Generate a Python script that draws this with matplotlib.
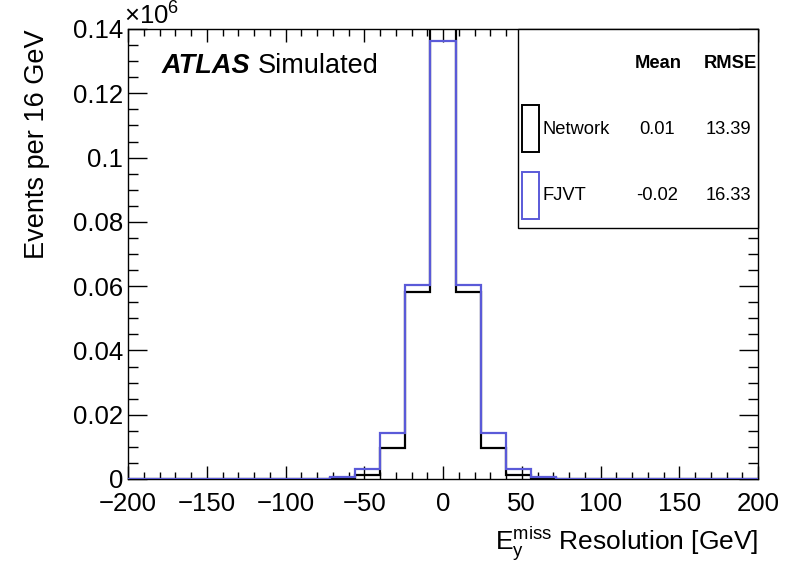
import numpy as np
import matplotlib
matplotlib.use("Agg")
import matplotlib.pyplot as plt
from matplotlib.patches import Rectangle
from matplotlib.ticker import MultipleLocator, FuncFormatter

plt.rcParams['font.family'] = ['Liberation Sans', 'DejaVu Sans']
plt.rcParams['mathtext.fontset'] = 'custom'
plt.rcParams['mathtext.rm'] = 'Liberation Sans'
plt.rcParams['mathtext.it'] = 'Liberation Sans:italic'

# ---- data ----
bin_edges = np.arange(-200, 201, 16)  # 25 bins of 16 GeV
network_counts = [0, 0, 0, 0, 0, 0, 0, 40, 250, 1340, 9640, 58280, 145000,
                  58280, 9640, 1340, 250, 40, 0, 0, 0, 0, 0, 0, 0]
fjvt_counts = [0, 0, 0, 0, 0, 0, 20, 120, 720, 3200, 14400, 60450, 136300,
               60450, 14400, 3200, 720, 120, 20, 0, 0, 0, 0, 0, 0]
series_names = ["Network", "FJVT"]
series_means = ["0.01", "-0.02"]
series_rmse = ["13.39", "16.33"]
series_colors = ["black", "#5a5ad8"]
scale = 1e6

W, H = 798, 571
fig = plt.figure(figsize=(W / 100, H / 100), dpi=100)
ax = fig.add_axes([128 / W, 1 - 479 / H, (758 - 128) / W, (479 - 29) / H])


def fx(px):
    return px / W


def fy(py):
    return 1 - py / H


for counts, col, z in [(network_counts, series_colors[0], 3), (fjvt_counts, series_colors[1], 4)]:
    ax.stairs(np.array(counts) / scale, bin_edges, color=col, lw=1.6, zorder=z)

ax.set_xlim(-200, 200)
ax.set_ylim(0, 0.14)
ax.xaxis.set_major_locator(MultipleLocator(50))
ax.xaxis.set_minor_locator(MultipleLocator(10))
ax.yaxis.set_major_locator(MultipleLocator(0.02))
ax.yaxis.set_minor_locator(MultipleLocator(0.005))
ax.yaxis.set_major_formatter(FuncFormatter(lambda v, p: "%g" % round(v, 4)))
ax.xaxis.set_major_formatter(FuncFormatter(lambda v, p: ("\u2212%g" % -v) if v < 0 else "%g" % v))
ax.tick_params(axis='x', which='major', direction='in', length=9.4, width=1, top=True, labelsize=18.5, pad=9.5)
ax.tick_params(axis='x', which='minor', direction='in', length=4.7, width=1, top=True)
ax.tick_params(axis='y', which='major', direction='in', length=13.7, width=1, right=True, labelsize=18.5, pad=3.5)
ax.tick_params(axis='y', which='minor', direction='in', length=7, width=1, right=True)
for s in ax.spines.values():
    s.set_linewidth(1.0)

fig.text(fx(758), fy(544), r'$\mathrm{E}_{\mathrm{y}}^{\mathrm{miss}}$ Resolution [GeV]',
         ha='right', va='center', fontsize=19)
fig.text(fx(37), fy(29), 'Events per 16 GeV', rotation=90, ha='center', va='top', fontsize=19.5)
fig.text(fx(124), fy(25), r'$\times\mathrm{10}^{6}$', ha='left', va='baseline', fontsize=18.5)

fig.text(fx(162), fy(73), 'ATLAS', fontsize=19.5, fontweight='bold', fontstyle='italic',
         ha='left', va='baseline')
fig.text(fx(258), fy(73), 'Simulated', fontsize=19.5, ha='left', va='baseline')

# legend box
fig.patches.append(Rectangle((fx(518), fy(228)), fx(758) - fx(518), fy(29) - fy(228),
                             transform=fig.transFigure, facecolor='white', edgecolor='black',
                             lw=1.0, zorder=10))
lg = 13.2
fig.text(fx(658), fy(63), 'Mean', fontsize=lg, fontweight='bold', ha='center', va='center', zorder=11)
fig.text(fx(730), fy(63), 'RMSE', fontsize=lg, fontweight='bold', ha='center', va='center', zorder=11)
rows_y = [129, 196]
for name, mean, rmse, col, ry in zip(series_names, series_means, series_rmse, series_colors, rows_y):
    fig.patches.append(Rectangle((fx(522), fy(ry + 23)), fx(539) - fx(522), fy(ry - 24) - fy(ry + 23),
                                 transform=fig.transFigure, facecolor='none', edgecolor=col,
                                 lw=1.4, zorder=11))
    fig.text(fx(542), fy(ry), name, fontsize=lg, ha='left', va='center', zorder=11)
    fig.text(fx(657), fy(ry), mean, fontsize=lg, ha='center', va='center', zorder=11)
    fig.text(fx(728), fy(ry), rmse, fontsize=lg, ha='center', va='center', zorder=11)

fig.savefig('out.png', dpi=100)
